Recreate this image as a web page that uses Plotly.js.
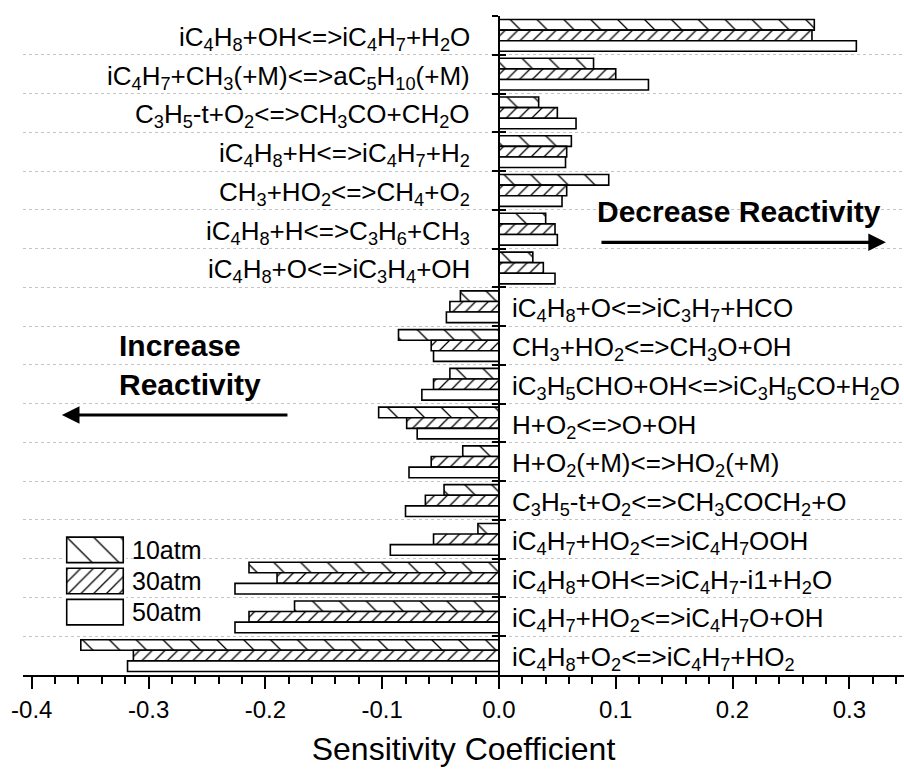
<!DOCTYPE html>
<html>
<head>
<meta charset="utf-8">
<script src="https://cdn.plot.ly/plotly-3.0.1.min.js"></script>
<style>html,body{margin:0;padding:0;background:#fff;}</style>
</head>
<body>
<div id="chart" style="width:904px;height:773px;"></div>
<script>
// ---- data (top to bottom) ----
var reactions = [
  'iC<sub>4</sub>H<sub>8</sub>+OH<=>iC<sub>4</sub>H<sub>7</sub>+H<sub>2</sub>O',
  'iC<sub>4</sub>H<sub>7</sub>+CH<sub>3</sub>(+M)<=>aC<sub>5</sub>H<sub>10</sub>(+M)',
  'C<sub>3</sub>H<sub>5</sub>-t+O<sub>2</sub><=>CH<sub>3</sub>CO+CH<sub>2</sub>O',
  'iC<sub>4</sub>H<sub>8</sub>+H<=>iC<sub>4</sub>H<sub>7</sub>+H<sub>2</sub>',
  'CH<sub>3</sub>+HO<sub>2</sub><=>CH<sub>4</sub>+O<sub>2</sub>',
  'iC<sub>4</sub>H<sub>8</sub>+H<=>C<sub>3</sub>H<sub>6</sub>+CH<sub>3</sub>',
  'iC<sub>4</sub>H<sub>8</sub>+O<=>iC<sub>3</sub>H<sub>4</sub>+OH',
  'iC<sub>4</sub>H<sub>8</sub>+O<=>iC<sub>3</sub>H<sub>7</sub>+HCO',
  'CH<sub>3</sub>+HO<sub>2</sub><=>CH<sub>3</sub>O+OH',
  'iC<sub>3</sub>H<sub>5</sub>CHO+OH<=>iC<sub>3</sub>H<sub>5</sub>CO+H<sub>2</sub>O',
  'H+O<sub>2</sub><=>O+OH',
  'H+O<sub>2</sub>(+M)<=>HO<sub>2</sub>(+M)',
  'C<sub>3</sub>H<sub>5</sub>-t+O<sub>2</sub><=>CH<sub>3</sub>COCH<sub>2</sub>+O',
  'iC<sub>4</sub>H<sub>7</sub>+HO<sub>2</sub><=>iC<sub>4</sub>H<sub>7</sub>OOH',
  'iC<sub>4</sub>H<sub>8</sub>+OH<=>iC<sub>4</sub>H<sub>7</sub>-i1+H<sub>2</sub>O',
  'iC<sub>4</sub>H<sub>7</sub>+HO<sub>2</sub><=>iC<sub>4</sub>H<sub>7</sub>O+OH',
  'iC<sub>4</sub>H<sub>8</sub>+O<sub>2</sub><=>iC<sub>4</sub>H<sub>7</sub>+HO<sub>2</sub>'
];
var seriesNames = ['10atm', '30atm', '50atm'];
var v10atm = [0.270, 0.081, 0.034, 0.062, 0.094, 0.040, 0.029, -0.033, -0.086, -0.042, -0.103, -0.031, -0.047, -0.018, -0.214, -0.175, -0.358];
var v30atm = [0.268, 0.100, 0.050, 0.058, 0.058, 0.048, 0.038, -0.042, -0.058, -0.056, -0.079, -0.058, -0.063, -0.056, -0.190, -0.214, -0.313];
var v50atm = [0.306, 0.128, 0.066, 0.057, 0.054, 0.050, 0.048, -0.045, -0.056, -0.066, -0.070, -0.077, -0.080, -0.093, -0.226, -0.226, -0.318];
var xTickVals = [-0.4, -0.3, -0.2, -0.1, 0.0, 0.1, 0.2, 0.3];
var xTickText = ['-0.4', '-0.3', '-0.2', '-0.1', '0.0', '0.1', '0.2', '0.3'];
var xTitle = 'Sensitivity Coefficient';
var decreaseText = 'Decrease Reactivity';
var increaseText = 'Increase<br>Reactivity';

// ---- styling ----
var FONT = '"Liberation Sans", Arimo, Arial, sans-serif';
var xRange = [-0.4075, 0.3468];
var yAxisPos = (0 - xRange[0]) / (xRange[1] - xRange[0]);
var yRange = [reactions.length - 0.5, -0.5];
var patterns = [
  {shape: '\\', size: 19, solidity: 0.07, fgcolor: '#000', bgcolor: '#fff', fillmode: 'replace'},
  {shape: '/', size: 9, solidity: 0.14, fgcolor: '#000', bgcolor: '#fff', fillmode: 'replace'},
  {shape: '', size: 8, solidity: 0.2, fgcolor: '#000', bgcolor: '#fff', fillmode: 'replace'}
];
var seriesValues = [v10atm, v30atm, v50atm];

function esc(s) { return s.replace(/<=>/g, '&lt;=&gt;'); }

var traces = seriesValues.map(function (vals, k) {
  return {
    type: 'bar', orientation: 'h',
    name: seriesNames[k],
    x: vals, y: reactions,
    xaxis: 'x', yaxis: 'y',
    marker: {color: '#fff', line: {color: '#000', width: 1.6}, pattern: patterns[k]},
    showlegend: false, hoverinfo: 'x+name'
  };
});

// invisible helper trace so the overlaid axis (right-side tick halves) has the categories
traces.push({
  type: 'scatter', mode: 'markers', x: v50atm, y: reactions,
  xaxis: 'x', yaxis: 'y3', marker: {opacity: 0, size: 1},
  showlegend: false, hoverinfo: 'skip'
});

// legend drawn as a tiny bar subplot
traces.push({
  type: 'bar', orientation: 'h',
  x: seriesNames.map(function () { return 1; }),
  y: seriesNames,
  xaxis: 'x2', yaxis: 'y2',
  marker: {
    color: '#fff', line: {color: '#000', width: 1.6},
    pattern: {
      shape: patterns.map(function (p) { return p.shape; }),
      size: patterns.map(function (p) { return p.size; }),
      solidity: patterns.map(function (p) { return p.solidity; }),
      fgcolor: '#000', bgcolor: '#fff', fillmode: 'replace'
    }
  },
  showlegend: false, hoverinfo: 'skip'
});

var annotations = reactions.map(function (r, i) {
  var pos = (v10atm[i] + v30atm[i] + v50atm[i]) >= 0;
  return {
    xref: 'x', yref: 'y', x: 0, y: r,
    text: esc(r), showarrow: false,
    xanchor: pos ? 'right' : 'left',
    xshift: pos ? -27 : 11,
    yanchor: 'middle', yshift: -3,
    font: {family: FONT, size: 26, color: '#000'}
  };
});

annotations.push({
  xref: 'x', yref: 'paper', x: 0.2055, y: 0.704, text: '<b>' + decreaseText + '</b>',
  showarrow: false, xanchor: 'center', yanchor: 'middle',
  font: {family: FONT, size: 30, color: '#000'}
});
annotations.push({
  xref: 'x', yref: 'paper', x: 0.3313, y: 0.6566, text: '',
  showarrow: true, axref: 'x', ayref: 'pixel', ax: 0.0865, ay: 0,
  arrowhead: 2, arrowsize: 1.1, arrowwidth: 3.2, arrowcolor: '#000', standoff: 0, startstandoff: 0
});
annotations.push({
  xref: 'x', yref: 'paper', x: -0.3271, y: 0.470, text: '<b>' + increaseText + '</b>',
  showarrow: false, xanchor: 'left', yanchor: 'middle', align: 'left',
  font: {family: FONT, size: 30, color: '#000'}
});
annotations.push({
  xref: 'x', yref: 'paper', x: -0.3742, y: 0.3945, text: '',
  showarrow: true, axref: 'x', ayref: 'pixel', ax: -0.1798, ay: 0,
  arrowhead: 2, arrowsize: 1.1, arrowwidth: 3.2, arrowcolor: '#000', standoff: 0, startstandoff: 0
});

var layout = {
  width: 904, height: 773,
  margin: {l: 23, r: 0, t: 16, b: 98},
  paper_bgcolor: '#fff', plot_bgcolor: '#fff',
  barmode: 'group', bargap: 0.18, bargroupgap: 0,
  font: {family: FONT, color: '#000'},
  xaxis: {
    range: xRange, domain: [0, 1], anchor: 'y',
    tickmode: 'array', tickvals: xTickVals, ticktext: xTickText,
    ticks: 'outside', ticklen: 12, tickwidth: 2, tickcolor: '#000',
    minor: {tick0: 0, dtick: 0.02, ticks: 'outside', ticklen: 7, tickwidth: 2, tickcolor: '#000', showgrid: false},
    showline: true, linewidth: 2, linecolor: '#000',
    showgrid: false, zeroline: false,
    tickfont: {family: FONT, size: 24, color: '#000'},
    title: {text: xTitle, font: {family: FONT, size: 32, color: '#000'}, standoff: 16}
  },
  yaxis: {
    type: 'category', categoryorder: 'array', categoryarray: reactions,
    range: yRange,
    anchor: 'free', position: yAxisPos,
    showline: true, linewidth: 2, linecolor: '#000',
    ticks: 'outside', ticklen: 6, tickwidth: 2, tickcolor: '#000',
    tickson: 'boundaries', showticklabels: false,
    showgrid: true, gridcolor: '#c4c4c4', gridwidth: 1, griddash: '3px,3px',
    zeroline: false
  },
  yaxis3: {
    type: 'category', categoryorder: 'array', categoryarray: reactions,
    range: yRange, overlaying: 'y',
    anchor: 'free', position: yAxisPos,
    showline: false,
    ticks: 'inside', ticklen: 6, tickwidth: 2, tickcolor: '#000',
    tickson: 'boundaries', showticklabels: false,
    showgrid: false, zeroline: false
  },
  xaxis2: {
    domain: [0.0464, 0.117], anchor: 'y2', range: [-0.05, 1.05],
    visible: false, fixedrange: true
  },
  yaxis2: {
    domain: [0.0718, 0.2135], anchor: 'x2', type: 'category',
    categoryorder: 'array', categoryarray: seriesNames,
    range: [2.5, -0.5], side: 'right',
    showline: false, showgrid: false, zeroline: false, ticks: '',
    ticklabelstandoff: 5,
    tickfont: {family: FONT, size: 25, color: '#000'}, fixedrange: true
  },
  annotations: annotations
};

Plotly.newPlot('chart', traces, layout, {displayModeBar: false, staticPlot: true});
</script>
</body>
</html>
